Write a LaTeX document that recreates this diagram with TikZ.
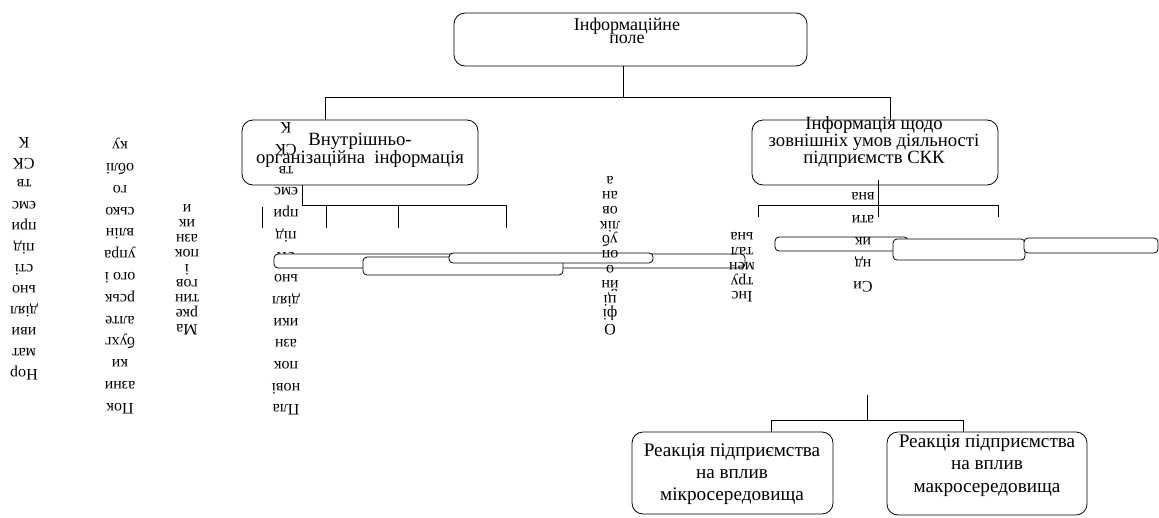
\documentclass[tikz,border=0pt]{standalone}
\usepackage{fontspec}
\setmainfont{Liberation Serif}
\begin{document}
\begin{tikzpicture}[x=1pt,y=-1pt,line width=0.8pt,
  bigbox/.style={draw,rounded corners=11pt,fill=white,inner sep=0pt},
  smallbox/.style={draw,rounded corners=4pt,fill=white,inner sep=0pt},
  boxtext/.style={align=center,inner sep=0pt},
  coltext/.style={rotate=180,align=center,inner sep=0pt}]
\useasboundingbox (0,0) rectangle (1159,517);
\fill[white] (0,0) rectangle (1159,517);

% main boxes
\node[bigbox,minimum width=353pt,minimum height=53pt] (top) at (630.5,39.5) {};
\node[bigbox,minimum width=236pt,minimum height=65pt] (inner) at (360,152.5) {};
\node[bigbox,minimum width=246pt,minimum height=65pt] (outer) at (875,152.5) {};
\node[bigbox,minimum width=201pt,minimum height=82pt] (micro) at (732.5,473) {};
\node[bigbox,minimum width=200pt,minimum height=83pt] (macro) at (987,473.5) {};

% box texts
\node[boxtext,font=\fontsize{18}{13}\selectfont] (ttop) at (627,31) {Інформаційне\\поле};
\node[boxtext,font=\fontsize{18.7}{14}\selectfont] (tinner) at (360,150) {Внутрішньо-\\організаційна\ \ інформація};
\node[boxtext,font=\fontsize{18.7}{15}\selectfont] (touter) at (874,142) {Інформація щодо\\зовнішніх умов діяльності\\підприємств СКК};
\node[boxtext,font=\fontsize{19.2}{22}\selectfont] (tmicro) at (732,474) {Реакція підприємства\\на вплив\\мікросередовища};
\node[boxtext,font=\fontsize{19.2}{22.5}\selectfont] (tmacro) at (987,465.5) {Реакція підприємства\\на вплив\\макросередовища};

% connectors
\coordinate (j0) at (623,97);
\coordinate (jl) at (325,97);
\coordinate (jr) at (890,97);
\draw (top.south -| j0) -- (j0);
\draw (jl) -- (jr);
\draw (jl) -- (jl |- inner.north);
\draw (jr) -- (jr |- outer.north);

\coordinate (k0) at (302,205);
\coordinate (k1) at (326,205);
\coordinate (k2) at (398,205);
\coordinate (k3) at (506,205);
\coordinate (k4) at (262,207);
\coordinate (kb) at (0,228);
\draw (k0 |- inner.south) -- (k0) -- (k3);
\draw (k1) -- (k1 |- kb);
\draw (k2) -- (k2 |- kb);
\draw (k3) -- (k3 |- kb);
\draw (k4) -- (k4 |- kb);

\coordinate (m0) at (878,180);
\coordinate (m1) at (878,217);
\coordinate (ml) at (758,205);
\coordinate (mr) at (998,205);
\coordinate (mb) at (0,217);
\draw (m0) -- (m1);
\draw (ml) -- (mr);
\draw (ml) -- (ml |- mb);
\draw (mr) -- (mr |- mb);

\coordinate (n0) at (867,395);
\coordinate (nl) at (771,420);
\coordinate (nr) at (963,420);
\draw (n0) -- (n0 |- nl);
\draw (nl) -- (nr);
\draw (nl) -- (nl |- micro.north);
\draw (nr) -- (nr |- macro.north);

% rotated columns (left)
\node[coltext,font=\fontsize{16}{21.1}\selectfont] (c1) at (24,259) {Нор\\мат\\иви\\діял\\ьно\\сті\\під\\при\\ємс\\тв\\СК\\К};
\node[coltext,font=\fontsize{16}{21.8}\selectfont] (c2) at (120,276) {Пок\\азни\\ки\\бухг\\алте\\рськ\\ого і\\упра\\влін\\сько\\го\\облі\\ку};
\node[coltext,font=\fontsize{16}{15}\selectfont] (c3) at (187,270) {Ма\\рке\\тин\\гов\\і\\пок\\азн\\ик\\и};
\node[coltext,font=\fontsize{16}{21.7}\selectfont] (c4) at (286,269) {Пла\\нові\\пок\\азн\\ики\\діял\\ьно\\сті\\під\\при\\ємс\\тв\\СК\\К};

% small boxes
\node[smallbox,minimum width=471pt,minimum height=14pt] (ba) at (509.5,261) {};
\node[smallbox,minimum width=200pt,minimum height=18pt] (bb) at (463,266) {};
\node[smallbox,minimum width=204pt,minimum height=10pt] (bc) at (551,258) {};
\node[smallbox,minimum width=133pt,minimum height=14pt] (bd) at (841.5,244) {};
\node[smallbox,minimum width=132pt,minimum height=21pt] (be) at (959,249.5) {};
\node[smallbox,minimum width=134pt,minimum height=15pt] (bf) at (1091,245.5) {};

% rotated columns (right)
\node[coltext,font=\fontsize{16}{14.8}\selectfont] (c5) at (610,256) {О\\фі\\ці\\йн\\о\\оп\\уб\\лік\\ов\\ан\\а};
\node[coltext,font=\fontsize{16}{14.8}\selectfont] (c6) at (742,267.5) {Інс\\тру\\мен\\тал\\ьна};
\node[coltext,font=\fontsize{16}{22.2}\selectfont] (c7) at (863,242.5) {Си\\нд\\ик\\ати\\вна};
\end{tikzpicture}
\end{document}
